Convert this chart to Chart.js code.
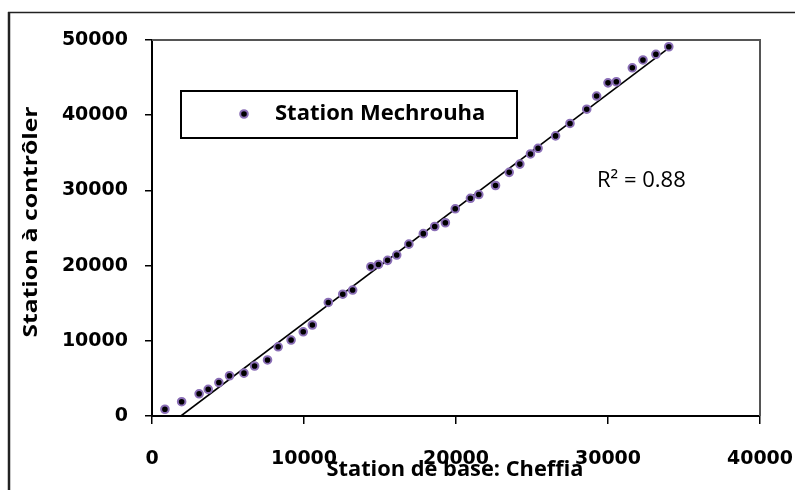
<!DOCTYPE html>
<html>
<head>
<meta charset="utf-8">
<script src="https://cdn.jsdelivr.net/npm/chart.js@4.4.1/dist/chart.umd.min.js"></script>
<style>
  body { margin: 0; background: #fff; }
  #wrap { width: 795px; height: 490px; }
</style>
</head>
<body>
<div id="wrap"><canvas id="mycanvas1" width="795" height="490"></canvas></div>
<script>
// Station de base (Cheffia) vs station a controler (Mechrouha)
var cheffia = [850, 1950, 3100, 3700, 4400, 5100, 6050, 6750, 7600, 8300,
  9150, 9950, 10550, 11600, 12550, 13200, 14400, 14900, 15500, 16100,
  16900, 17850, 18600, 19300, 19950, 20950, 21500, 22600, 23500, 24200,
  24900, 25400, 26550, 27500, 28600, 29250, 30000, 30550, 31600, 32300,
  33150, 34000];
var mechrouha = [900, 1900, 2950, 3550, 4450, 5350, 5700, 6650, 7450, 9200,
  10100, 11200, 12100, 15100, 16200, 16750, 19850, 20150, 20700, 21400,
  22850, 24250, 25200, 25700, 27550, 28950, 29450, 30650, 32400, 33500,
  34850, 35600, 37250, 38900, 40800, 42550, 44300, 44450, 46300, 47350,
  48100, 49100];
// droite de tendance (extremites)
var trendX = [1900, 34100];
var trendY = [0, 49100];
var xTicks = [0, 10000, 20000, 30000, 40000];
var yTicks = [0, 10000, 20000, 30000, 40000, 50000];
var serieName = "Station Mechrouha";
var xTitle = "Station de base: Cheffia";
var yTitle = "Station à contrôler";
var r2Text = "R² = 0.88";

var ptFill = "#000000";
var ptRing = "#8a6eb6";

var points = [];
for (var i in cheffia) {
  points.push({x: cheffia[i], y: mechrouha[i]});
}
var trend = [];
for (var j in trendX) {
  trend.push({x: trendX[j], y: trendY[j]});
}

// texte etire a une largeur donnee
function fitText(ctx, txt, x, y, font, width, angle) {
  ctx.save();
  ctx.translate(x, y);
  ctx.rotate(angle);
  ctx.font = font;
  var w = ctx.measureText(txt).width;
  ctx.scale(width / w, 1);
  ctx.textAlign = "center";
  ctx.textBaseline = "alphabetic";
  ctx.fillStyle = "#000";
  ctx.fillText(txt, 0, 0);
  ctx.restore();
}

var decor = {
  id: "decor",
  beforeDatasetsDraw: function(chart) {
    var ctx = chart.ctx, a = chart.chartArea;
    ctx.save();
    ctx.strokeStyle = "#555";
    ctx.lineWidth = 2;
    ctx.beginPath();
    ctx.moveTo(a.left, a.top);
    ctx.lineTo(a.right, a.top);
    ctx.lineTo(a.right, a.bottom);
    ctx.stroke();
    ctx.restore();
  },
  afterDraw: function(chart) {
    var ctx = chart.ctx;
    ctx.save();
    // cadre exterieur
    ctx.strokeStyle = "#222";
    ctx.lineWidth = 1.5;
    ctx.beginPath();
    ctx.moveTo(8, 12.5);
    ctx.lineTo(795, 12.5);
    ctx.stroke();
    ctx.lineWidth = 2.5;
    ctx.beginPath();
    ctx.moveTo(9, 12);
    ctx.lineTo(9, 490);
    ctx.stroke();

    // legende
    ctx.strokeStyle = "#000";
    ctx.lineWidth = 2;
    ctx.strokeRect(181, 91, 336, 47);
    ctx.beginPath();
    ctx.arc(244, 114, 3.8, 0, Math.PI * 2);
    ctx.fillStyle = ptFill;
    ctx.fill();
    ctx.lineWidth = 2;
    ctx.strokeStyle = ptRing;
    ctx.stroke();
    ctx.fillStyle = "#000";
    ctx.font = "bold 22px 'Open Sans'";
    ctx.textAlign = "left";
    ctx.textBaseline = "middle";
    ctx.fillText(serieName, 275, 114);

    // R2
    ctx.font = "22px 'Open Sans'";
    ctx.textBaseline = "alphabetic";
    ctx.fillText(r2Text, 597, 187);
    ctx.restore();

    // titres des axes
    fitText(ctx, xTitle, 455, 476, "bold 22px 'Open Sans'", 257, 0);
    fitText(ctx, yTitle, 37, 222, "bold 19px 'Open Sans'", 231, -Math.PI / 2);
  }
};

var ctx = document.getElementById("mycanvas1");
var chart = new Chart(ctx, {
  type: "scatter",
  data: {
    datasets: [
      {
        label: serieName,
        data: points,
        backgroundColor: ptFill,
        borderColor: ptRing,
        borderWidth: 2,
        pointRadius: 3.8,
        order: 1
      },
      {
        type: "line",
        label: "tendance",
        data: trend,
        borderColor: "#000",
        borderWidth: 1.6,
        pointRadius: 0,
        fill: false,
        order: 2
      }
    ]
  },
  options: {
    responsive: false,
    animation: false,
    layout: { padding: { left: 0, top: 40, right: 35, bottom: 0 } },
    plugins: {
      legend: { display: false },
      tooltip: { enabled: false }
    },
    scales: {
      x: {
        type: "linear",
        min: 0, max: 40000,
        afterBuildTicks: function(s) { s.ticks = xTicks.map(function(v) { return {value: v}; }); },
        afterFit: function(s) { s.height = 74; s.paddingLeft = 0; s.paddingRight = 0; },
        border: { display: true, color: "#000", width: 2 },
        grid: { drawOnChartArea: false, drawTicks: true, tickLength: 8, color: "#000", lineWidth: 1.5 },
        ticks: {
          padding: 24,
          color: "#000",
          font: { family: "'DejaVu Sans'", weight: "bold", size: 19 },
          callback: function(v) { return String(v); }
        }
      },
      y: {
        type: "linear",
        min: 0, max: 50000,
        afterBuildTicks: function(s) { s.ticks = yTicks.map(function(v) { return {value: v}; }); },
        afterFit: function(s) { s.width = 152; s.paddingTop = 0; s.paddingBottom = 0; },
        border: { display: true, color: "#000", width: 2 },
        grid: { drawOnChartArea: false, drawTicks: true, tickLength: 7, color: "#000", lineWidth: 1.5 },
        ticks: {
          padding: 17,
          color: "#000",
          font: { family: "'DejaVu Sans'", weight: "bold", size: 19 },
          callback: function(v) { return String(v); }
        }
      }
    }
  },
  plugins: [decor]
});
</script>
</body>
</html>
